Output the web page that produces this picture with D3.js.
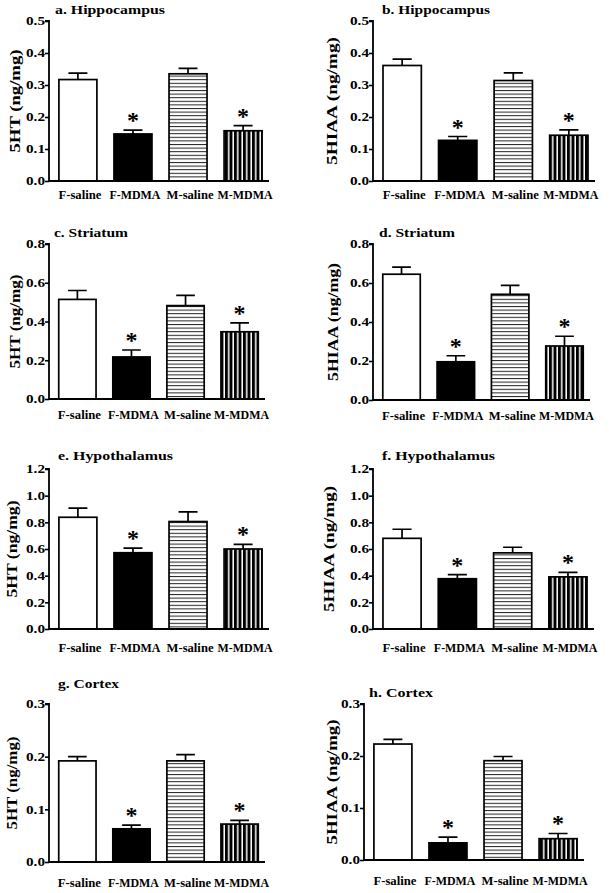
<!DOCTYPE html>
<html><head><meta charset="utf-8">
<script src="https://cdn.jsdelivr.net/npm/d3@7"></script>
<style>
html,body{margin:0;padding:0;background:#fff;}
svg{display:block;}
text{font-family:"Liberation Serif","Times New Roman",serif;font-weight:bold;fill:#000;}
</style></head>
<body>
<script>
// ---------- data ----------
const categories = ["F-saline","F-MDMA","M-saline","M-MDMA"];
const panelTitles = ["a. Hippocampus","b. Hippocampus","c. Striatum","d. Striatum","e. Hypothalamus","f. Hypothalamus","g. Cortex","h. Cortex"];
const yLabels = ["5HT (ng/mg)","5HIAA (ng/mg)","5HT (ng/mg)","5HIAA (ng/mg)","5HT (ng/mg)","5HIAA (ng/mg)","5HT (ng/mg)","5HIAA (ng/mg)"];
const yMax = [0.5,0.5,0.8,0.8,1.2,1.2,0.3,0.3];
const yTickStep = [0.1,0.1,0.2,0.2,0.2,0.2,0.1,0.1];
const meanA = [0.317,0.147,0.335,0.157], semA = [0.020,0.012,0.017,0.016];
const meanB = [0.361,0.127,0.314,0.143], semB = [0.020,0.012,0.024,0.017];
const meanC = [0.514,0.217,0.482,0.347], semC = [0.046,0.036,0.053,0.046];
const meanD = [0.645,0.196,0.542,0.277], semD = [0.036,0.031,0.046,0.050];
const meanE = [0.838,0.572,0.806,0.600], semE = [0.068,0.035,0.072,0.035];
const meanF = [0.680,0.377,0.571,0.391], semF = [0.068,0.031,0.042,0.033];
const meanG = [0.192,0.063,0.192,0.072], semG = [0.008,0.007,0.012,0.007];
const meanH = [0.223,0.033,0.191,0.041], semH = [0.009,0.011,0.008,0.010];
const means = [meanA,meanB,meanC,meanD,meanE,meanF,meanG,meanH];
const sems  = [semA,semB,semC,semD,semE,semF,semG,semH];
const significant = [false,true,false,true];

// ---------- layout ----------
const layout = [
  {x0:49,x1:272,top:21,zero:181,titleX:55,titleY:14,tlen:110,ylx:15,ylen:103,lab:18},
  {x0:373,x1:598,top:21,zero:181,titleX:382,titleY:14,tlen:108,ylx:332,ylen:128,lab:18},
  {x0:49,x1:268,top:244,zero:399,titleX:54,titleY:237,tlen:74,ylx:15,ylen:94,lab:20},
  {x0:373,x1:593,top:244,zero:400,titleX:379,titleY:237,tlen:76,ylx:333,ylen:118,lab:20},
  {x0:49,x1:272,top:469,zero:629,titleX:58,titleY:460,tlen:115,ylx:12,ylen:97,lab:23},
  {x0:373,x1:597,top:469,zero:629,titleX:382,titleY:460,tlen:113,ylx:329,ylen:126,lab:23},
  {x0:49,x1:268,top:704,zero:862,titleX:58,titleY:688,tlen:61,ylx:12,ylen:93,lab:25},
  {x0:364,x1:587,top:704,zero:860,titleX:369,titleY:697,tlen:64,ylx:332,ylen:125,lab:25}
];
const catLen = [43,51,47,55];
const tickLen = 19;
const FS_TITLE=13.5, FS_TICK=12.5, FS_CAT=12, FS_YL=15, FS_AST=24;

const svg = d3.select("body").append("svg").attr("width",609).attr("height",893);
const defs = svg.append("defs");
const ph = defs.append("pattern").attr("id","hstripe").attr("patternUnits","userSpaceOnUse")
  .attr("width",10).attr("height",3.6);
ph.append("rect").attr("width",10).attr("height",3.6).attr("fill","#fff");
ph.append("rect").attr("y",0).attr("width",10).attr("height",1).attr("fill","#222");
const pv = defs.append("pattern").attr("id","vstripe").attr("patternUnits","userSpaceOnUse")
  .attr("width",4.5).attr("height",10);
pv.append("rect").attr("width",4.5).attr("height",10).attr("fill","#000");
pv.append("rect").attr("x",3).attr("width",1.5).attr("height",10).attr("fill","#fff");
const fills = ["#fff","#000","url(#hstripe)","url(#vstripe)"];

function ftext(g,x,y,str,size,anchor,len,rot){
  const t = g.append("text").attr("font-size",size).attr("text-anchor",anchor||"start")
    .attr("x",rot?0:x).attr("y",rot?0:y).text(str);
  if(len){ t.attr("textLength",len).attr("lengthAdjust","spacingAndGlyphs"); }
  if(rot){ t.attr("transform",`translate(${x},${y}) rotate(-90)`); }
  return t;
}

layout.forEach((L,i)=>{
  const g = svg.append("g");
  const x = d3.scaleBand().domain(categories).range([L.x0,L.x1]).paddingInner(0.31).paddingOuter(0.18);
  const y = d3.scaleLinear().domain([0,yMax[i]]).range([L.zero,L.top]);
  const data = categories.map((c,k)=>({c,k,m:means[i][k],s:sems[i][k]}));

  g.selectAll("rect.bar").data(data).enter().append("rect")
    .attr("x",d=>x(d.c)).attr("width",x.bandwidth())
    .attr("y",d=>y(d.m)).attr("height",d=>y(0)-y(d.m))
    .attr("fill",d=>fills[d.k]).attr("stroke","#000").attr("stroke-width",1.7);
  const cap = x.bandwidth()*0.5;
  g.selectAll("path.err").data(data).enter().append("path")
    .attr("d",d=>{const cx=x(d.c)+x.bandwidth()/2, t=y(d.m+d.s);
      return `M${cx},${y(d.m)}V${t}M${cx-cap/2},${t}H${cx+cap/2}`;})
    .attr("stroke","#000").attr("stroke-width",1.7).attr("fill","none");
  data.filter(d=>significant[d.k]).forEach(d=>{
    ftext(g,x(d.c)+x.bandwidth()/2,y(d.m+d.s)-2,"*",FS_AST,"middle");
  });

  // y axis
  const ticks = d3.range(0,yMax[i]+1e-9,yTickStep[i]);
  const ya = d3.axisLeft(y).tickValues(ticks).tickFormat(d3.format(".1f")).tickSize(4);
  const ag = g.append("g").attr("transform",`translate(${L.x0},0)`).call(ya);
  ag.select(".domain").attr("stroke","#000").attr("stroke-width",1.8).attr("d",`M-4,${L.top}H0V${L.zero}`);
  ag.selectAll(".tick line").attr("stroke","#000").attr("stroke-width",1.6);
  ag.selectAll(".tick text").remove();
  ticks.forEach(v=>{ ftext(g,L.x0-4,y(v)+4.3,d3.format(".1f")(v),FS_TICK,"end",tickLen); });

  // x axis
  g.append("path").attr("d",`M${L.x0},${L.zero}H${L.x1-3}`).attr("stroke","#000").attr("stroke-width",1.8);
  categories.forEach((c,k)=>{ ftext(g,x(c)+x.bandwidth()/2+2,L.zero+L.lab,c,FS_CAT,"middle",catLen[k]); });

  // title and y label
  ftext(g,L.titleX,L.titleY,panelTitles[i],FS_TITLE,"start",L.tlen);
  ftext(g,L.ylx+5,(L.top+L.zero)/2,yLabels[i],FS_YL,"middle",L.ylen,true);
});
</script>
</body></html>
